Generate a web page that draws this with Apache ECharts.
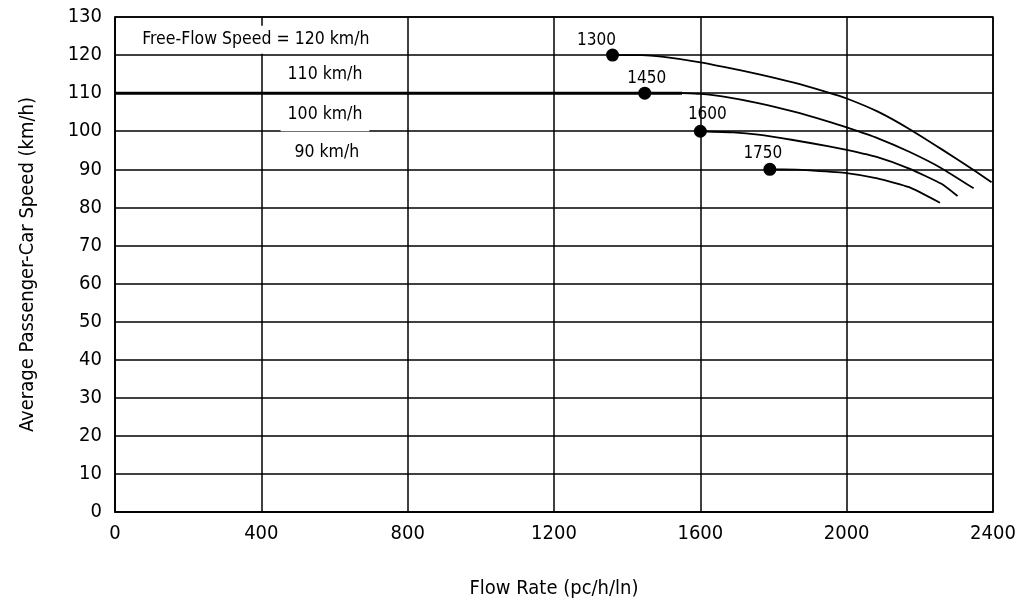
<!DOCTYPE html>
<html>
<head>
<meta charset="utf-8">
<script src="https://cdn.jsdelivr.net/npm/echarts@6/dist/echarts.min.js"></script>
<style>
html,body{margin:0;padding:0;background:#fff;}
#chart{width:1023px;height:604px;}
</style>
</head>
<body>
<div id="chart"></div>
<script>
// ---- data ----
const xTicks = [0, 400, 800, 1200, 1600, 2000, 2400];
const yTicks = [0, 10, 20, 30, 40, 50, 60, 70, 80, 90, 100, 110, 120, 130];

// speed-flow curves [flow (pc/h/ln), speed (km/h)]
const curve120 = [[1360,120],[1440,120],[1500,119.5],[1600,118.1],[1664,116.9],[1758,115.0],[1853,112.8],[1948,110.2],[2000,108.6],[2084,105.2],[2171,100.6],[2259,95.3],[2347,89.8],[2396,86.6]];
const flat110 = [[0,110],[1448,110],[1550,110]];
const curve110 = [[1550,110],[1600,109.8],[1664,109.1],[1758,107.4],[1853,105.2],[1948,102.6],[2000,101.0],[2084,98.2],[2171,94.6],[2259,90.3],[2347,85.0]];
const curve100 = [[1600,100],[1690,99.7],[1758,99.1],[1853,97.7],[1948,96.1],[2000,95.1],[2084,93.2],[2171,90.2],[2259,86.2],[2303,83.0]];
const curve90 = [[1790,90],[1860,89.9],[1900,89.7],[2000,89.0],[2084,87.6],[2171,85.3],[2255,81.2]];

// breakpoints (dots) and their labels
const breakFlow = [1360, 1448, 1600, 1790];
const breakSpeed = [120, 110, 100, 90];
const breakLabels = ['1300', '1450', '1600', '1750'];

// free-flow speed annotations
const ffsText = ['Free-Flow Speed = 120 km/h', '110 km/h', '100 km/h', '90 km/h'];
const ffsTextFlow = [385, 574, 574, 579];
const ffsTextSpeed = [124.0, 114.9, 104.3, 94.3];

// ---- styles ----
const FONT = "'Liberation Sans Narrow', 'Arial Narrow', 'DejaVu Sans Condensed', sans-serif";
const breakLabelOffsets = [[-16,-14],[2,-15],[7,-17],[-7,-16]];
const ffsPadding = [[5,3,5,3],[2,4,2,4],[3,7,12,7],[2,4,2,4]];

function curveSeries(name, data, width){
  return {name:name, type:'line', data:data, showSymbol:false, symbol:'none',
    smooth:0.15, lineStyle:{color:'#000', width:width||1.8}, z:3};
}

const chart = echarts.init(document.getElementById('chart'), null, {renderer:'canvas'});
chart.setOption({
  animation:false,
  backgroundColor:'#fff',
  textStyle:{fontFamily:FONT},
  grid:{left:115, right:30, top:17, bottom:89, show:true, borderColor:'#000', borderWidth:1.5, backgroundColor:'#fff'},
  xAxis:{
    type:'value', min:xTicks[0], max:xTicks[xTicks.length-1], interval:400,
    name:'Flow Rate (pc/h/ln)', nameLocation:'middle', nameGap:67,
    nameTextStyle:{fontSize:20, color:'#000', fontFamily:FONT},
    axisLine:{show:true, lineStyle:{color:'#000', width:1.5}},
    axisTick:{show:false},
    axisLabel:{fontSize:20, color:'#000', margin:12, fontFamily:FONT, formatter:(v)=>String(v)},
    splitLine:{show:true, lineStyle:{color:'#000', width:1.5}}
  },
  yAxis:{
    type:'value', min:yTicks[0], max:yTicks[yTicks.length-1], interval:10,
    name:'Average Passenger-Car Speed (km/h)', nameLocation:'middle', nameGap:77,
    nameTextStyle:{fontSize:20, color:'#000', fontFamily:FONT},
    axisLine:{show:true, lineStyle:{color:'#000', width:1.5}},
    axisTick:{show:false},
    axisLabel:{fontSize:20, color:'#000', margin:13, fontFamily:FONT, formatter:(v)=>String(v)},
    splitLine:{show:true, lineStyle:{color:'#000', width:1.5}}
  },
  series:[
    curveSeries('120', curve120),
    {name:'110 flat', type:'line', data:flat110, symbol:'none', lineStyle:{color:'#000', width:3}, z:3},
    curveSeries('110', curve110),
    curveSeries('100', curve100),
    curveSeries('90', curve90),
    {
      name:'breakpoints', type:'scatter', symbol:'circle', symbolSize:13, z:5,
      itemStyle:{color:'#000', opacity:1},
      label:{color:'#000'},
      data: breakFlow.map((f,i)=>({
        value:[f, breakSpeed[i]],
        label:{show:true, formatter:breakLabels[i], position:'inside', offset:breakLabelOffsets[i],
          color:'#000', fontSize:17, fontFamily:FONT, textBorderWidth:0}
      }))
    },
    {
      name:'annotations', type:'scatter', symbolSize:1, z:6,
      itemStyle:{color:'#fff', opacity:1},
      label:{color:'#000'},
      data: ffsText.map((t,i)=>({
        value:[ffsTextFlow[i], ffsTextSpeed[i]],
        label:{show:true, formatter:t, position:'inside', color:'#000', fontSize:17.5, fontFamily:FONT,
          backgroundColor:'#fff', padding:ffsPadding[i], textBorderWidth:0}
      }))
    }
  ]
});
</script>
</body>
</html>
